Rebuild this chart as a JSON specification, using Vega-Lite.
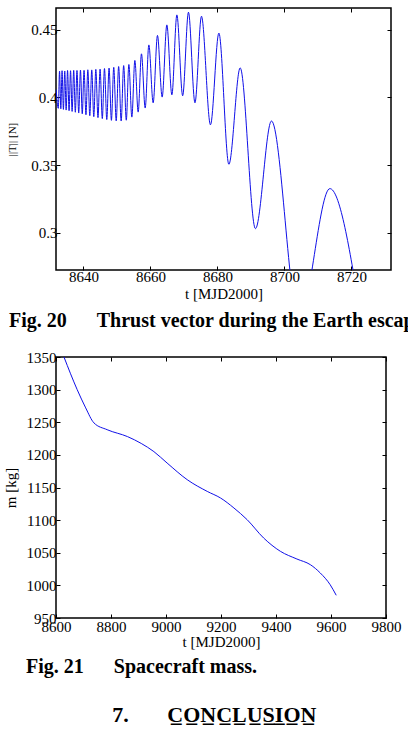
{
  "$schema": "https://vega.github.io/schema/vega-lite/v6.json",
  "padding": {"left": 2, "top": 6, "right": 0, "bottom": 0},
  "background": "white",
  "config": {
    "view": {"stroke": "black", "strokeWidth": 1.5},
    "font": "Liberation Serif",
    "axis": {
      "labelFont": "Liberation Serif", "labelFontSize": 15, "labelColor": "black",
      "titleFont": "Liberation Serif", "titleFontSize": 15, "titleFontWeight": "normal", "titleColor": "black",
      "grid": false, "domain": false, "tickColor": "black", "tickSize": -4, "tickWidth": 1,
      "labelFlush": false, "labelOverlap": false, "labelPadding": 3
    }
  },
  "spacing": 16,
  "title": {
    "text": "7.\u2003\u2002\u00a0C\u0332O\u0332N\u0332C\u0332L\u0332U\u0332S\u0332I\u0332O\u0332N\u0332",
    "orient": "bottom", "anchor": "start", "frame": "bounds", "dx": 110, "offset": 27,
    "font": "Liberation Serif", "fontSize": 22, "fontWeight": "bold", "color": "black"
  },
  "vconcat": [
    {
      "width": 335, "height": 262,
      "title": {
        "text": "Fig. 20\u2003\u2002Thrust vector during the Earth escape",
        "orient": "bottom", "anchor": "start", "frame": "group", "dx": -47, "offset": -12,
        "font": "Liberation Serif", "fontSize": 20, "fontWeight": "bold", "color": "black"
      },
      "data": {"values": [
        {"t": 8631.85, "T": 0.4060}, {"t": 8632.48, "T": 0.3920}, {"t": 8632.86, "T": 0.4195}, {"t": 8633.24, "T": 0.3916},
        {"t": 8633.61, "T": 0.4198}, {"t": 8634.01, "T": 0.3912}, {"t": 8634.41, "T": 0.4196}, {"t": 8634.83, "T": 0.3907},
        {"t": 8635.25, "T": 0.4200}, {"t": 8635.70, "T": 0.3902}, {"t": 8636.14, "T": 0.4198}, {"t": 8636.61, "T": 0.3897},
        {"t": 8637.08, "T": 0.4201}, {"t": 8637.57, "T": 0.3891}, {"t": 8638.06, "T": 0.4200}, {"t": 8638.58, "T": 0.3885},
        {"t": 8639.10, "T": 0.4203}, {"t": 8639.64, "T": 0.3879}, {"t": 8640.17, "T": 0.4201}, {"t": 8640.74, "T": 0.3872},
        {"t": 8641.30, "T": 0.4205}, {"t": 8641.89, "T": 0.3865}, {"t": 8642.47, "T": 0.4204}, {"t": 8643.08, "T": 0.3858},
        {"t": 8643.69, "T": 0.4208}, {"t": 8644.33, "T": 0.3851}, {"t": 8644.96, "T": 0.4210}, {"t": 8645.62, "T": 0.3844},
        {"t": 8646.27, "T": 0.4214}, {"t": 8646.96, "T": 0.3837}, {"t": 8647.64, "T": 0.4218}, {"t": 8648.34, "T": 0.3831},
        {"t": 8649.04, "T": 0.4223}, {"t": 8649.77, "T": 0.3827}, {"t": 8650.50, "T": 0.4229}, {"t": 8651.25, "T": 0.3826},
        {"t": 8652.00, "T": 0.4236}, {"t": 8652.78, "T": 0.3832}, {"t": 8653.55, "T": 0.4244}, {"t": 8654.44, "T": 0.3855},
        {"t": 8655.34, "T": 0.4274}, {"t": 8656.33, "T": 0.3892}, {"t": 8657.31, "T": 0.4323}, {"t": 8658.42, "T": 0.3922},
        {"t": 8659.52, "T": 0.4389}, {"t": 8660.80, "T": 0.3961}, {"t": 8662.09, "T": 0.4459}, {"t": 8663.49, "T": 0.4003},
        {"t": 8664.89, "T": 0.4537}, {"t": 8666.39, "T": 0.4020}, {"t": 8667.88, "T": 0.4611}, {"t": 8669.61, "T": 0.4013},
        {"t": 8671.34, "T": 0.4631}, {"t": 8673.28, "T": 0.3961}, {"t": 8675.22, "T": 0.4601}, {"t": 8677.91, "T": 0.3798},
        {"t": 8680.42, "T": 0.4476}, {"t": 8683.40, "T": 0.3506}, {"t": 8686.78, "T": 0.4219}, {"t": 8691.34, "T": 0.3030},
        {"t": 8696.12, "T": 0.3826}, {"t": 8704.30, "T": 0.2350}, {"t": 8713.55, "T": 0.3326}, {"t": 8722.00, "T": 0.2500}
      ]},
      "layer": [
        {
          "mark": {"type": "line", "color": "#1010e8", "strokeWidth": 1, "clip": true, "interpolate": "monotone"},
          "encoding": {
            "x": {"field": "t", "type": "quantitative",
                  "scale": {"domain": [8631.8, 8731.8], "nice": false, "zero": false},
                  "axis": {"title": "t [MJD2000]", "values": [8640, 8660, 8680, 8700, 8720], "format": "d", "titlePadding": 2}},
            "y": {"field": "T", "type": "quantitative",
                  "scale": {"domain": [0.2724, 0.4662], "nice": false, "zero": false},
                  "axis": {"title": "||T|| [N]", "titleFontSize": 11, "titlePadding": 13, "values": [0.3, 0.35, 0.4, 0.45], "format": "~g"}}
          }
        },
        {
          "mark": {"type": "point", "opacity": 0},
          "encoding": {
            "x": {"field": "t", "type": "quantitative",
                  "axis": {"orient": "top", "labels": false, "title": null, "values": [8640, 8660, 8680, 8700, 8720]}},
            "y": {"field": "T", "type": "quantitative",
                  "axis": {"orient": "right", "labels": false, "title": null, "values": [0.3, 0.35, 0.4, 0.45]}}
          }
        }
      ],
      "resolve": {"axis": {"x": "independent", "y": "independent"}}
    },
    {
      "width": 330, "height": 261,
      "title": {
        "text": "Fig. 21\u2003\u2002Spacecraft mass.",
        "orient": "bottom", "anchor": "start", "frame": "group", "dx": -30, "offset": 8,
        "font": "Liberation Serif", "fontSize": 20, "fontWeight": "bold", "color": "black"
      },
      "data": {"values": [
        {"t": 8629, "m": 1350}, {"t": 8677, "m": 1300}, {"t": 8708, "m": 1272}, {"t": 8738, "m": 1249},
        {"t": 8786, "m": 1238.6}, {"t": 8860, "m": 1228}, {"t": 8910, "m": 1217.5}, {"t": 8956, "m": 1205},
        {"t": 9004, "m": 1187.5}, {"t": 9077, "m": 1162}, {"t": 9150, "m": 1144}, {"t": 9198, "m": 1134},
        {"t": 9247, "m": 1118.6}, {"t": 9295, "m": 1100.7}, {"t": 9355, "m": 1072.6}, {"t": 9416, "m": 1052.2},
        {"t": 9476, "m": 1040.4}, {"t": 9525, "m": 1031.7}, {"t": 9561, "m": 1019}, {"t": 9597, "m": 1001},
        {"t": 9619, "m": 984.8}
      ]},
      "layer": [
        {
          "mark": {"type": "line", "color": "#1010e8", "strokeWidth": 1, "clip": true, "interpolate": "monotone"},
          "encoding": {
            "x": {"field": "t", "type": "quantitative",
                  "scale": {"domain": [8600, 9800], "nice": false, "zero": false},
                  "axis": {"title": "t [MJD2000]", "values": [8600, 8800, 9000, 9200, 9400, 9600, 9800], "format": "d", "labelPadding": 5, "titlePadding": 0}},
            "y": {"field": "m", "type": "quantitative",
                  "scale": {"domain": [950, 1350], "nice": false, "zero": false},
                  "axis": {"title": "m [kg]", "labelPadding": 4, "titlePadding": 8, "values": [950, 1000, 1050, 1100, 1150, 1200, 1250, 1300, 1350], "format": "d"}}
          }
        },
        {
          "mark": {"type": "point", "opacity": 0},
          "encoding": {
            "x": {"field": "t", "type": "quantitative",
                  "axis": {"orient": "top", "labels": false, "title": null, "values": [8600, 8800, 9000, 9200, 9400, 9600, 9800]}},
            "y": {"field": "m", "type": "quantitative",
                  "axis": {"orient": "right", "labels": false, "title": null, "values": [950, 1000, 1050, 1100, 1150, 1200, 1250, 1300, 1350]}}
          }
        }
      ],
      "resolve": {"axis": {"x": "independent", "y": "independent"}}
    }
  ]
}
